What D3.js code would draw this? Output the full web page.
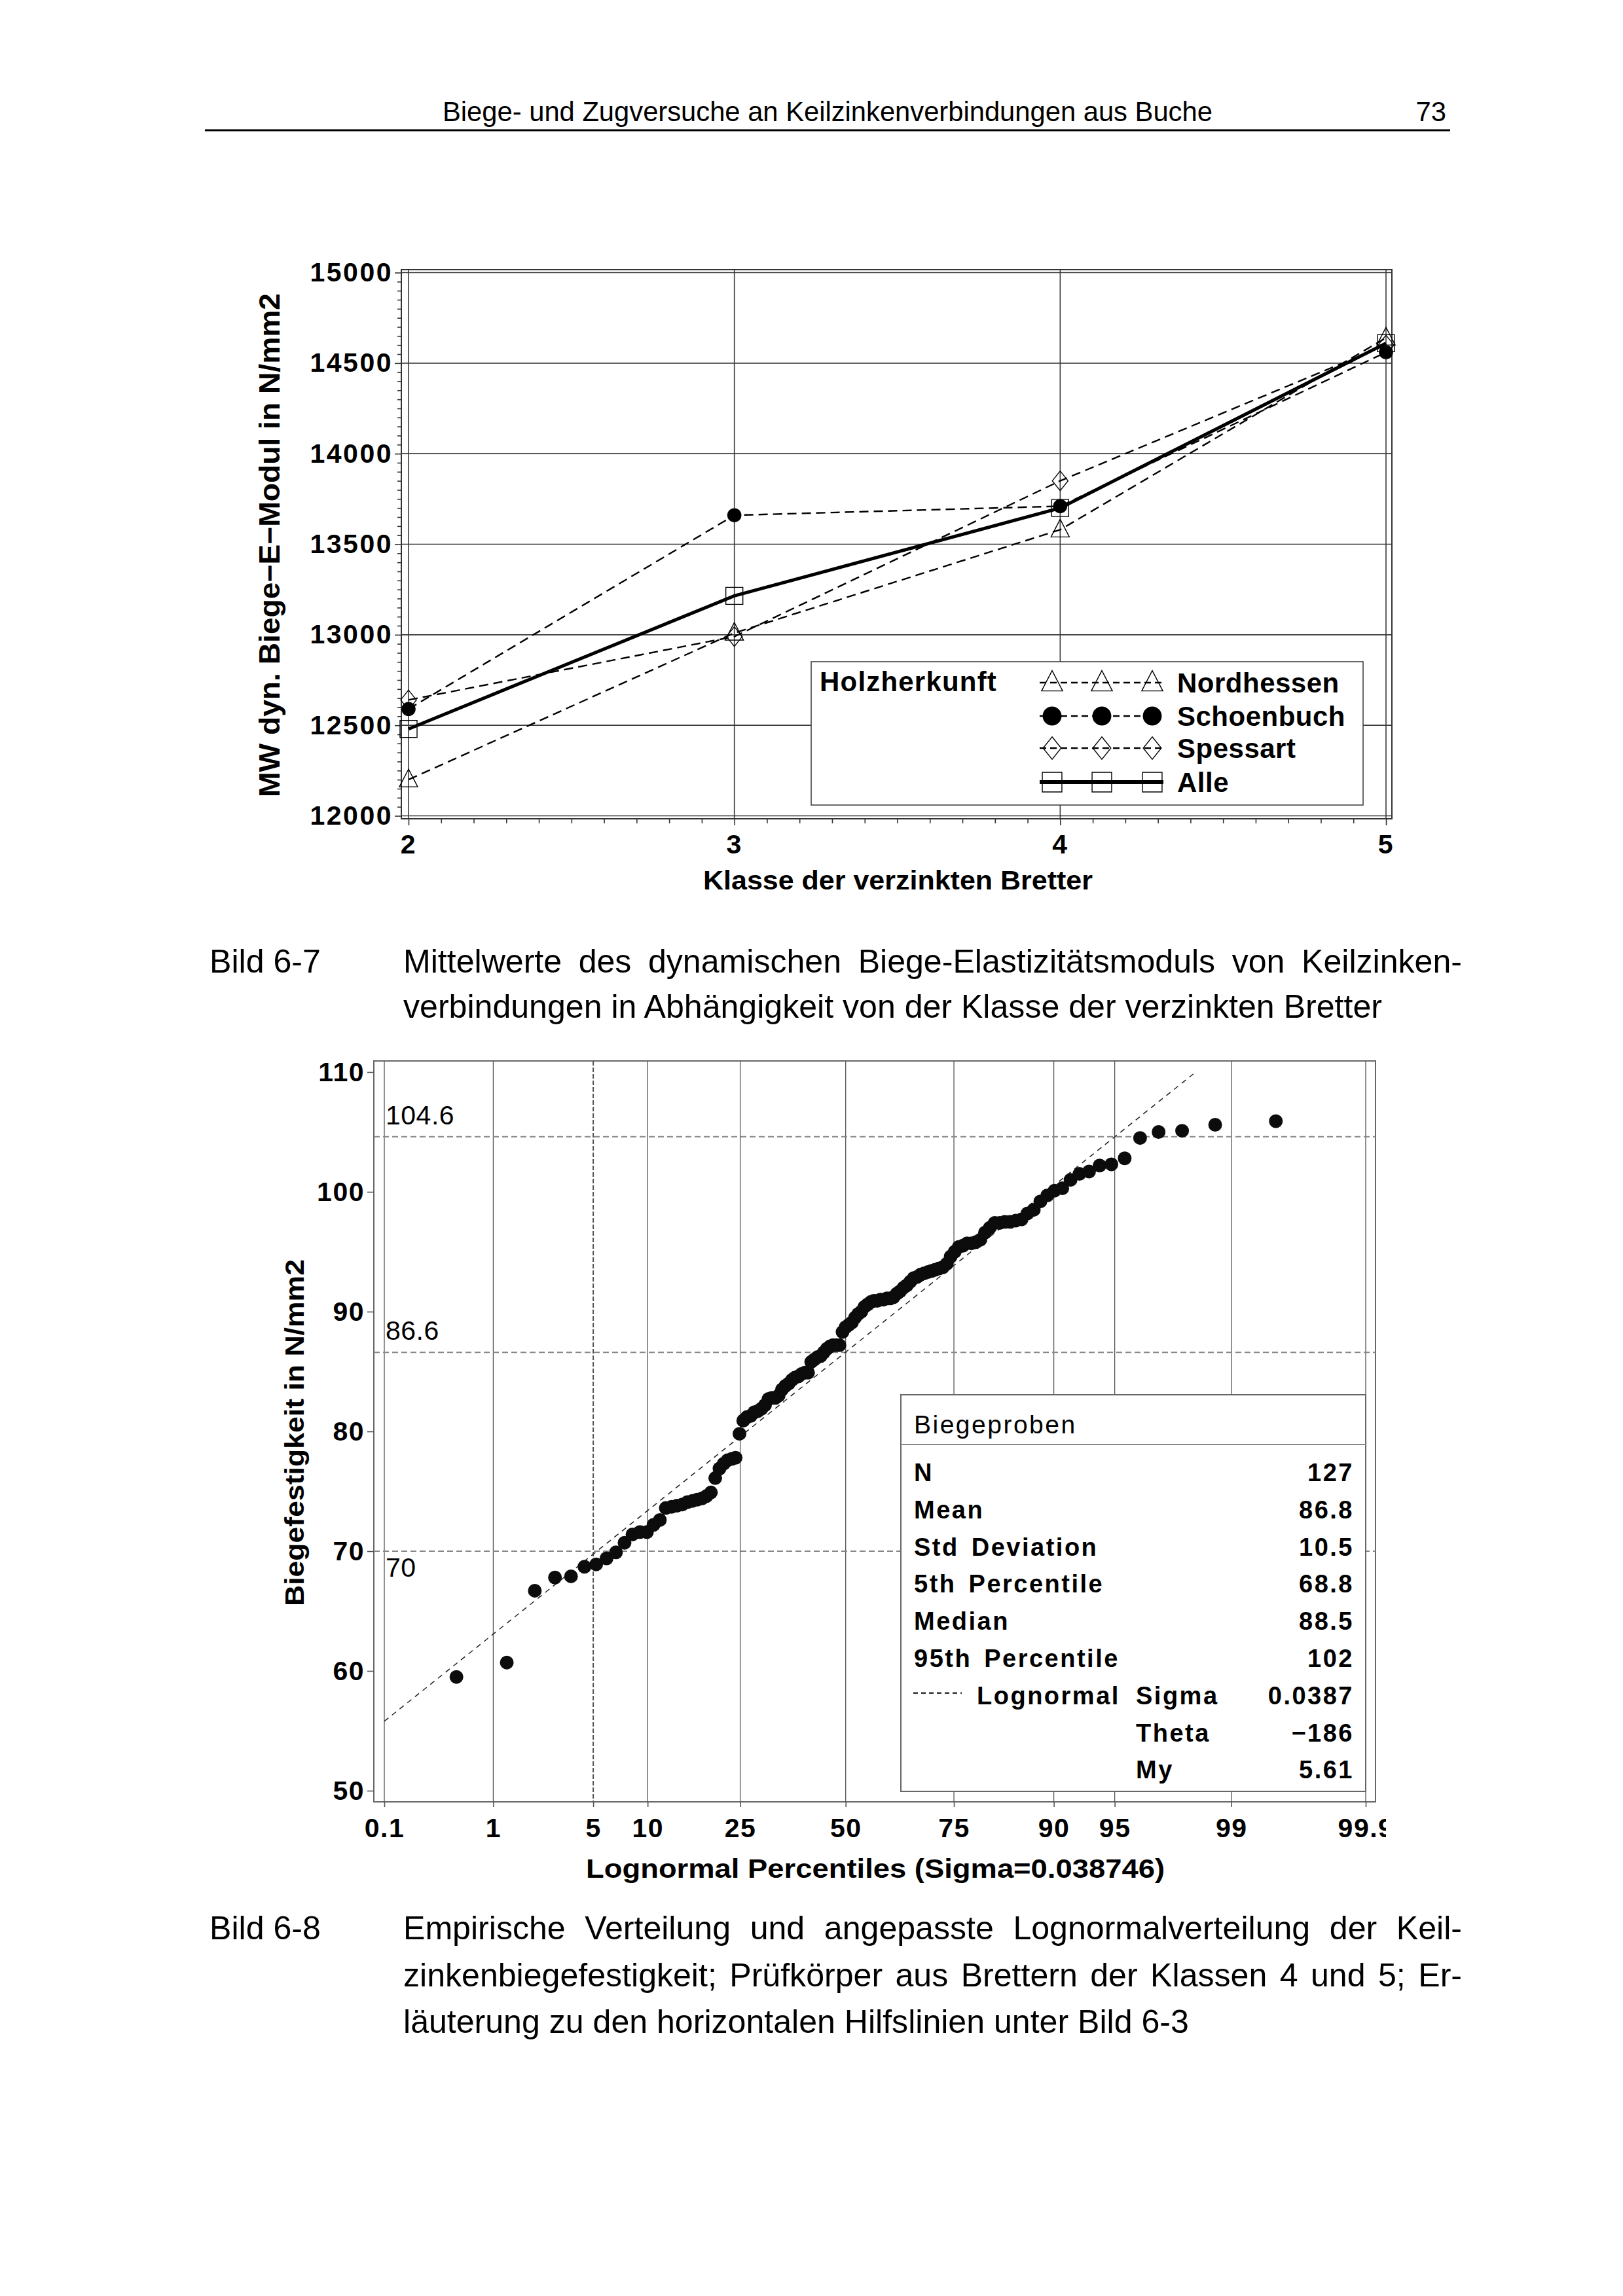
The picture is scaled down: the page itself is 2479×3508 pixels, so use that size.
<!DOCTYPE html>
<html>
<head>
<meta charset="utf-8">
<script src="https://cdn.jsdelivr.net/npm/d3@7"></script>
<style>
  body { margin: 0; background: #fff; }
  svg { display: block; }
  text { font-family: "Liberation Sans", Arial, Helvetica, sans-serif; fill: #000; }
</style>
</head>
<body>
<svg id="page" width="2479" height="3508"></svg>
<script>
// ---------------- DATA ----------------
const headerText = "Biege- und Zugversuche an Keilzinkenverbindungen aus Buche";
const pageNumber = "73";

// Chart 1 (Bild 6-7)
const classes = [2, 3, 4, 5];
const seriesNames = ["Nordhessen", "Schoenbuch", "Spessart", "Alle"];
const nordhessen = [12200, 13010, 13580, 14640];
const schoenbuch = [12590, 13660, 13710, 14560];
const spessart   = [12640, 12990, 13850, 14600];
const alle       = [12480, 13215, 13700, 14610];
const yTicks1 = [12000, 12500, 13000, 13500, 14000, 14500, 15000];
const legendTitle1 = "Holzherkunft";
const xTitle1 = "Klasse der verzinkten Bretter";
const yTitle1 = "MW dyn. Biege\u2212E\u2212Modul in N/mm2";

// Chart 2 (Bild 6-8): sorted bending strengths, N = 127
const strength = [
  59.5, 60.7, 66.7, 67.8, 67.9, 68.7, 68.9, 69.4, 69.9, 70.7,
  71.4, 71.6, 71.6, 72.2, 72.6, 73.6, 73.7, 73.8, 73.9, 74.1,
  74.2, 74.3, 74.4, 74.6, 74.9, 76.1, 76.9, 77.3, 77.6, 77.7,
  77.8, 79.8, 80.9, 81.2, 81.3, 81.6, 81.7, 81.9, 82.2, 82.7,
  82.8, 82.8, 83.0, 83.5, 83.8, 84.0, 84.3, 84.5, 84.6, 84.8,
  84.9, 84.9, 85.8, 86.0, 86.2, 86.3, 86.6, 86.9, 87.1, 87.2,
  87.2, 87.2, 88.3, 88.7, 88.9, 89.1, 89.5, 89.8, 90.0, 90.4,
  90.6, 90.8, 90.9, 90.9, 91.0, 91.0, 91.1, 91.1, 91.2, 91.5,
  91.7, 92.0, 92.2, 92.5, 92.8, 92.9, 93.1, 93.2, 93.3, 93.4,
  93.5, 93.6, 93.7, 94.0, 94.6, 95.0, 95.4, 95.5, 95.7, 95.7,
  95.8, 96.0, 96.6, 97.0, 97.4, 97.4, 97.5, 97.5, 97.6, 97.7,
  98.2, 98.5, 99.2, 99.7, 100.1, 100.3, 101.0, 101.5, 101.7, 102.2,
  102.3, 102.8, 104.5, 105.0, 105.1, 105.6, 105.9
];
const pctTicks = [0.1, 1, 5, 10, 25, 50, 75, 90, 95, 99, 99.9];
const yTicks2 = [50, 60, 70, 80, 90, 100, 110];
const refLines = [104.6, 86.6, 70];
const refPct = 5;
const sigmaAxis = 0.038746;
const fitLine = [{ pct: 0.1, v: 55.8 }, { pct: 98.3, v: 110.0 }];
const insetTitle = "Biegeproben";
const statLabels = ["N", "Mean", "Std Deviation", "5th Percentile", "Median", "95th Percentile"];
const statValues = ["127", "86.8", "10.5", "68.8", "88.5", "102"];
const fitLabels = ["Sigma", "Theta", "My"];
const fitValues = ["0.0387", "\u2212186", "5.61"];
const xTitle2 = "Lognormal Percentiles (Sigma=0.038746)";
const yTitle2 = "Biegefestigkeit in N/mm2";

// Captions
const caption1Label = "Bild 6-7";
const caption1 = ["Mittelwerte des dynamischen Biege-Elastizitätsmoduls von Keilzinken-",
                  "verbindungen in Abhängigkeit von der Klasse der verzinkten Bretter"];
const caption2Label = "Bild 6-8";
const caption2 = ["Empirische Verteilung und angepasste Lognormalverteilung der Keil-",
                  "zinkenbiegefestigkeit; Prüfkörper aus Brettern der Klassen 4 und 5; Er-",
                  "läuterung zu den horizontalen Hilfslinien unter Bild 6-3"];

// ---------------- HELPERS ----------------
function probit(p) {
  const a = [-3.969683028665376e+01, 2.209460984245205e+02, -2.759285104469687e+02, 1.383577518672690e+02, -3.066479806614716e+01, 2.506628277459239e+00];
  const b = [-5.447609879822406e+01, 1.615858368580409e+02, -1.556989798598866e+02, 6.680131188771972e+01, -1.328068155288572e+01];
  const c = [-7.784894002430293e-03, -3.223964580411365e-01, -2.400758277161838e+00, -2.549732539343734e+00, 4.374664141464968e+00, 2.938163982698783e+00];
  const d = [7.784695709041462e-03, 3.224671290700398e-01, 2.445134137142996e+00, 3.754408661907416e+00];
  const pl = 0.02425, ph = 1 - pl;
  let q, r;
  if (p < pl) { q = Math.sqrt(-2 * Math.log(p)); return (((((c[0]*q+c[1])*q+c[2])*q+c[3])*q+c[4])*q+c[5]) / ((((d[0]*q+d[1])*q+d[2])*q+d[3])*q+1); }
  if (p <= ph) { q = p - 0.5; r = q*q; return (((((a[0]*r+a[1])*r+a[2])*r+a[3])*r+a[4])*r+a[5])*q / (((((b[0]*r+b[1])*r+b[2])*r+b[3])*r+b[4])*r+1); }
  q = Math.sqrt(-2 * Math.log(1 - p));
  return -(((((c[0]*q+c[1])*q+c[2])*q+c[3])*q+c[4])*q+c[5]) / ((((d[0]*q+d[1])*q+d[2])*q+d[3])*q+1);
}

const svg = d3.select("#page");
svg.append("rect").attr("width", 2479).attr("height", 3508).attr("fill", "#fff");

function measure(str, size, weight) {
  const tmp = svg.append("text").attr("font-size", size).attr("font-weight", weight || "normal")
    .attr("x", -9999).attr("y", -9999).text(str);
  const w = tmp.node().getComputedTextLength();
  tmp.remove();
  return w;
}
function justified(g, str, x0, x1, y, size) {
  const words = str.split(" ");
  const t = g.append("text").attr("font-size", size).attr("y", y);
  const widths = words.map(w => measure(w, size));
  const gap = (x1 - x0 - d3.sum(widths)) / (words.length - 1);
  let x = x0;
  words.forEach((w, i) => {
    t.append("tspan").attr("x", x).text(w + (i < words.length - 1 ? " " : ""));
    x += widths[i] + gap;
  });
}

// ---------------- HEADER ----------------
const headSize = 40 * 1176 / measure(headerText, 40);
svg.append("text").attr("x", 676).attr("y", 185).attr("font-size", headSize).text(headerText);
svg.append("text").attr("x", 2209).attr("y", 185).attr("font-size", headSize).attr("text-anchor", "end").text(pageNumber);
svg.append("line").attr("x1", 313).attr("x2", 2215).attr("y1", 199).attr("y2", 199)
  .attr("stroke", "#000").attr("stroke-width", 3);

// ---------------- CHART 1 ----------------
const c1 = svg.append("g");
const f1 = { l: 613, r: 2126, t: 412, b: 1251 };
const x1 = d3.scaleLinear().domain([2, 5]).range([624, 2117]);
const y1 = d3.scaleLinear().domain([12000, 15000]).range([1246.5, 416.5]);

c1.append("g").selectAll("line").data(yTicks1).join("line")
  .attr("x1", f1.l).attr("x2", f1.r).attr("y1", d => y1(d)).attr("y2", d => y1(d))
  .attr("stroke", "#3a3a3a").attr("stroke-width", 1.6);
c1.append("g").selectAll("line").data(classes).join("line")
  .attr("y1", f1.t).attr("y2", f1.b).attr("x1", d => x1(d)).attr("x2", d => x1(d))
  .attr("stroke", "#3a3a3a").attr("stroke-width", 1.6);
c1.append("rect").attr("x", f1.l).attr("y", f1.t).attr("width", f1.r - f1.l).attr("height", f1.b - f1.t)
  .attr("fill", "none").attr("stroke", "#333").attr("stroke-width", 2);

const yAx1 = c1.append("g").attr("transform", `translate(${f1.l},0)`)
  .call(d3.axisLeft(y1).tickValues(yTicks1).tickSize(10).tickPadding(3).tickFormat(d => String(d)));
const yMin1 = c1.append("g").attr("transform", `translate(${f1.l},0)`)
  .call(d3.axisLeft(y1).tickValues(d3.range(12000, 15001, 50).filter(v => v % 500 !== 0)).tickSize(6).tickFormat(""));
const xAx1 = c1.append("g").attr("transform", `translate(0,${f1.b})`)
  .call(d3.axisBottom(x1).tickValues(classes).tickSize(10).tickPadding(14).tickFormat(d => String(d)));
const xMin1 = c1.append("g").attr("transform", `translate(0,${f1.b})`)
  .call(d3.axisBottom(x1).tickValues(d3.range(20, 51).map(v => v / 10).filter(v => Math.abs(v - Math.round(v)) > 1e-6)).tickSize(7).tickFormat(""));
[yAx1, yMin1, xAx1, xMin1].forEach(a => {
  a.select(".domain").remove();
  a.selectAll("line").attr("stroke", "#333").attr("stroke-width", 1.6);
  a.selectAll("text").attr("font-size", 41).attr("font-weight", "bold").attr("letter-spacing", 2.5)
    .attr("font-family", "'Liberation Sans', Arial, sans-serif").attr("fill", "#000");
});

const seriesData = [nordhessen, schoenbuch, spessart, alle];
const markerPath = {
  Nordhessen: "M0,-16L14,11L-14,11Z",
  Schoenbuch: d3.symbol(d3.symbolCircle, 320)(),
  Spessart: "M0,-15L12,0L0,15L-12,0Z",
  Alle: "M-13,-13H13V13H-13Z"
};
const line1 = d3.line().x((d, i) => x1(classes[i])).y(d => y1(d));
seriesData.forEach((vals, s) => {
  const name = seriesNames[s];
  c1.append("path").datum(vals).attr("d", line1).attr("fill", "none").attr("stroke", "#000")
    .attr("stroke-width", name === "Alle" ? 5 : 2.4)
    .attr("stroke-dasharray", name === "Alle" ? null : "14,8");
});
seriesData.forEach((vals, s) => {
  const name = seriesNames[s];
  c1.append("g").selectAll("path").data(vals).join("path")
    .attr("transform", (d, i) => `translate(${x1(classes[i])},${y1(d)})`)
    .attr("d", markerPath[name])
    .attr("fill", name === "Schoenbuch" ? "#000" : "none")
    .attr("stroke", "#000").attr("stroke-width", 1.4);
});

// legend
const lg = c1.append("g");
lg.append("rect").attr("x", 1239).attr("y", 1011).attr("width", 843).attr("height", 219)
  .attr("fill", "#fff").attr("stroke", "#444").attr("stroke-width", 1.6);
lg.append("text").attr("x", 1252).attr("y", 1056).attr("font-size", 42).attr("font-weight", "bold")
  .attr("letter-spacing", 1.2).text(legendTitle1);
const legRowY = [1043, 1094, 1143, 1195];
const legMarkX = [1607, 1683, 1760];
seriesNames.forEach((name, s) => {
  const yy = legRowY[s];
  lg.append("line").attr("x1", 1588).attr("x2", 1777).attr("y1", yy).attr("y2", yy)
    .attr("stroke", "#000").attr("stroke-width", name === "Alle" ? 6 : 2.6)
    .attr("stroke-dasharray", name === "Alle" ? null : "10,6");
  lg.selectAll(null).data(legMarkX).join("path")
    .attr("transform", d => `translate(${d},${yy}) scale(${name === "Schoenbuch" ? 1.35 : 1.15})`)
    .attr("d", markerPath[name])
    .attr("fill", name === "Schoenbuch" ? "#000" : "#fff")
    .attr("fill-opacity", name === "Schoenbuch" ? 1 : 0)
    .attr("stroke", "#000").attr("stroke-width", 1.2);
  lg.append("text").attr("x", 1798).attr("y", yy + 15).attr("font-size", 42).attr("font-weight", "bold")
    .attr("letter-spacing", 0.5).text(name);
});

c1.append("text").attr("transform", "translate(427,833) rotate(-90)").attr("text-anchor", "middle")
  .attr("font-size", 44).attr("font-weight", "bold").attr("textLength", 770).attr("lengthAdjust", "spacingAndGlyphs")
  .text(yTitle1);
c1.append("text").attr("x", 1074).attr("y", 1359).attr("font-size", 41).attr("font-weight", "bold")
  .attr("textLength", 595).attr("lengthAdjust", "spacingAndGlyphs").text(xTitle1);

// ---------------- CAPTION 1 ----------------
const capSize = 46 * 1495 / measure(caption1[1], 46);
const cap = svg.append("g");
cap.append("text").attr("x", 320).attr("y", 1486).attr("font-size", capSize).text(caption1Label);
justified(cap, caption1[0], 616, 2233, 1486, capSize);
cap.append("text").attr("x", 616).attr("y", 1555).attr("font-size", capSize).text(caption1[1]);

// ---------------- CHART 2 ----------------
const c2 = svg.append("g");
const f2 = { l: 571, r: 2101, t: 1621, b: 2753 };
const qn = p => Math.exp(sigmaAxis * probit(p));
const x2 = d3.scaleLinear().domain([qn(0.001), qn(0.999)]).range([587, 2086]);
const xp = pct => x2(qn(pct / 100));
const y2 = d3.scaleLinear().domain([50, 110]).range([2736, 1638]);

c2.append("rect").attr("x", f2.l).attr("y", f2.t).attr("width", f2.r - f2.l).attr("height", f2.b - f2.t)
  .attr("fill", "#fff").attr("stroke", "#666").attr("stroke-width", 2);

c2.append("g").selectAll("line").data(pctTicks).join("line")
  .attr("x1", d => xp(d)).attr("x2", d => xp(d)).attr("y1", f2.t).attr("y2", f2.b)
  .attr("stroke", "#555")
  .attr("stroke-width", d => d === refPct ? 2 : 1.3)
  .attr("stroke-dasharray", d => d === refPct ? "7,3" : null);

c2.append("g").selectAll("line").data(refLines).join("line")
  .attr("x1", f2.l).attr("x2", f2.r).attr("y1", d => y2(d)).attr("y2", d => y2(d))
  .attr("stroke", "#888").attr("stroke-width", 2).attr("stroke-dasharray", "9,5");
c2.append("g").selectAll("text").data(refLines).join("text")
  .attr("x", 589).attr("y", (d, i) => i === refLines.length - 1 ? y2(d) + 39 : y2(d) - 19)
  .attr("font-size", 41).attr("letter-spacing", 0.5).text(d => String(d));

c2.append("path").datum(fitLine)
  .attr("d", d3.line().x(d => xp(d.pct)).y(d => y2(d.v)))
  .attr("fill", "none").attr("stroke", "#222").attr("stroke-width", 1.5).attr("stroke-dasharray", "8,7");

const n = strength.length;
c2.append("g").selectAll("circle").data(strength).join("circle")
  .attr("cx", (d, i) => xp(100 * (i + 1 - 0.375) / (n + 0.25)))
  .attr("cy", d => y2(d))
  .attr("r", 10.5).attr("fill", "#0b0c0b");

// inset table
const ins = c2.append("g");
ins.append("rect").attr("x", 1376).attr("y", 2131).attr("width", 710).attr("height", 606)
  .attr("fill", "#fff").attr("stroke", "#666").attr("stroke-width", 2);
ins.append("line").attr("x1", 1376).attr("x2", 2086).attr("y1", 2207).attr("y2", 2207)
  .attr("stroke", "#888").attr("stroke-width", 2);
ins.append("text").attr("x", 1396).attr("y", 2190).attr("font-size", 39).attr("letter-spacing", 2.5).text(insetTitle);
const rowY = d3.range(9).map(i => 2263 + i * 56.8);
statLabels.forEach((lab, i) => {
  ins.append("text").attr("x", 1396).attr("y", rowY[i]).attr("font-size", 38).attr("font-weight", "bold")
    .attr("letter-spacing", 2.5).attr("word-spacing", 6).text(lab);
  ins.append("text").attr("x", 2068).attr("y", rowY[i]).attr("font-size", 38).attr("font-weight", "bold")
    .attr("letter-spacing", 2.5).attr("text-anchor", "end").text(statValues[i]);
});
ins.append("line").attr("x1", 1395).attr("x2", 1469).attr("y1", rowY[6] - 17).attr("y2", rowY[6] - 17)
  .attr("stroke", "#000").attr("stroke-width", 2).attr("stroke-dasharray", "7,5");
ins.append("text").attr("x", 1492).attr("y", rowY[6]).attr("font-size", 38).attr("font-weight", "bold")
  .attr("letter-spacing", 2.5).text("Lognormal");
fitLabels.forEach((lab, i) => {
  ins.append("text").attr("x", 1735).attr("y", rowY[6 + i]).attr("font-size", 38).attr("font-weight", "bold")
    .attr("letter-spacing", 2.5).text(lab);
  ins.append("text").attr("x", 2068).attr("y", rowY[6 + i]).attr("font-size", 38).attr("font-weight", "bold")
    .attr("letter-spacing", 2.5).attr("text-anchor", "end").text(fitValues[i]);
});

const yAx2 = c2.append("g").attr("transform", `translate(${f2.l},0)`)
  .call(d3.axisLeft(y2).tickValues(yTicks2).tickSize(10).tickPadding(4).tickFormat(d => String(d)));
svg.append("defs").append("clipPath").attr("id", "xclip").append("rect")
  .attr("x", 400).attr("y", 2700).attr("width", 1717).attr("height", 200);
const xAx2 = c2.append("g").attr("clip-path", "url(#xclip)").append("g").attr("transform", `translate(0,${f2.b})`)
  .call(d3.axisBottom(x2).tickValues(pctTicks.map(p => qn(p / 100))).tickSize(8).tickPadding(17)
    .tickFormat((d, i) => String(pctTicks[i])));
[yAx2, xAx2].forEach(a => {
  a.select(".domain").remove();
  a.selectAll("line").attr("stroke", "#555").attr("stroke-width", 1.6);
  a.selectAll("text").attr("font-size", 41).attr("font-weight", "bold").attr("letter-spacing", 1.5)
    .attr("font-family", "'Liberation Sans', Arial, sans-serif").attr("fill", "#000");
});

c2.append("text").attr("x", 895).attr("y", 2869).attr("font-size", 41).attr("font-weight", "bold")
  .attr("textLength", 884).attr("lengthAdjust", "spacingAndGlyphs").text(xTitle2);
c2.append("text").attr("transform", "translate(464,2189) rotate(-90)").attr("text-anchor", "middle")
  .attr("font-size", 40).attr("font-weight", "bold").attr("textLength", 530).attr("lengthAdjust", "spacingAndGlyphs")
  .text(yTitle2);

// ---------------- CAPTION 2 ----------------
cap.append("text").attr("x", 320).attr("y", 2963).attr("font-size", capSize).text(caption2Label);
justified(cap, caption2[0], 616, 2233, 2963, capSize);
justified(cap, caption2[1], 616, 2233, 3035, capSize);
cap.append("text").attr("x", 616).attr("y", 3106).attr("font-size", capSize).text(caption2[2]);
</script>
</body>
</html>
